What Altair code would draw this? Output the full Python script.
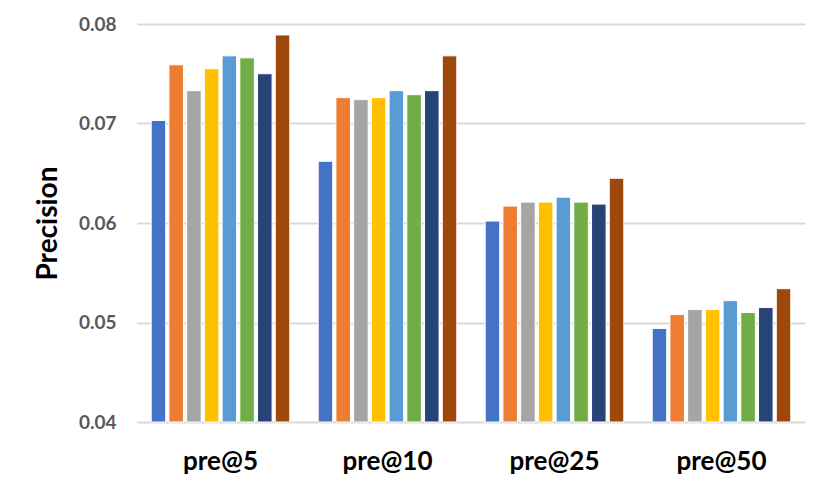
import altair as alt
import pandas as pd

categories = ["pre@5", "pre@10", "pre@25", "pre@50"]
series = ["S1", "S2", "S3", "S4", "S5", "S6", "S7", "S8"]
colors = ["#4472C4", "#ED7D31", "#A5A5A5", "#FFC000", "#5B9BD5", "#70AD47", "#264478", "#9E480E"]

values = {
    "S1": [0.0703, 0.0662, 0.0602, 0.0494],
    "S2": [0.0759, 0.0726, 0.0617, 0.0508],
    "S3": [0.0733, 0.0724, 0.0621, 0.0513],
    "S4": [0.0755, 0.0726, 0.0621, 0.0513],
    "S5": [0.0768, 0.0733, 0.0626, 0.0522],
    "S6": [0.0766, 0.0729, 0.0621, 0.0510],
    "S7": [0.0750, 0.0733, 0.0619, 0.0515],
    "S8": [0.0789, 0.0768, 0.0645, 0.0534],
}

rows = []
for s in series:
    for c, v in zip(categories, values[s]):
        rows.append({"metric": c, "series": s, "value": v})
df = pd.DataFrame(rows)

FONT = "Lato"

chart = alt.Chart(df).mark_bar(stroke="white", strokeWidth=1).encode(
    x=alt.X("metric:N", sort=categories,
            scale=alt.Scale(paddingInner=0.17, paddingOuter=0.085),
            axis=alt.Axis(title=None, labelAngle=0, labelFontSize=26, labelFontWeight="bold",
                          labelColor="#000000", labelFont=FONT, labelPadding=26,
                          domain=False, ticks=False, grid=False)),
    xOffset=alt.XOffset("series:N", sort=series, scale=alt.Scale(paddingInner=0.18)),
    y=alt.Y("value:Q",
            scale=alt.Scale(domain=[0.04, 0.08], zero=False, nice=False, clamp=True),
            axis=alt.Axis(title="Precision", values=[0.04, 0.05, 0.06, 0.07, 0.08], format=".2f",
                          labelFontSize=19, labelFontWeight="bold", labelColor="#595959",
                          labelFont=FONT, labelPadding=21,
                          titleFontSize=28, titleFontWeight="bold", titleColor="#000000",
                          titleFont=FONT, titlePadding=16,
                          domain=False, ticks=False, gridColor="#d9d9d9", gridWidth=2)),
    color=alt.Color("series:N", sort=series, scale=alt.Scale(domain=series, range=colors), legend=None),
).properties(
    width=668, height=398,
    background="white",
    autosize=alt.AutoSizeParams(type="none"),
    padding={"left": 129, "top": 16, "right": 17, "bottom": 66},
).configure_view(stroke=None, strokeWidth=0)

chart.save("out.html", embed_options={"renderer": "svg", "actions": False})
